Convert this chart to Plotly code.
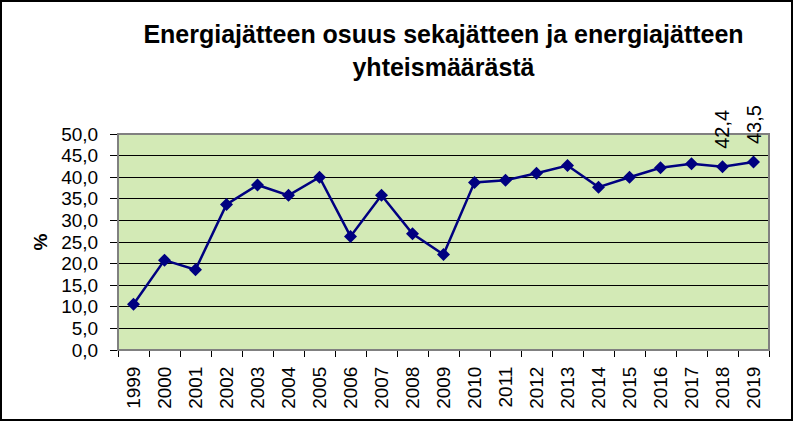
import plotly.graph_objects as go

years = [str(y) for y in range(1999, 2020)]
values = [10.6, 20.8, 18.6, 33.7, 38.2, 35.8, 40.0, 26.3, 35.8, 26.9, 22.1,
          38.8, 39.3, 40.9, 42.7, 37.7, 40.0, 42.2, 43.1, 42.4, 43.5]
label_years = ["2018", "2019"]
label_texts = ["42,4", "43,5"]
y_ticks = [0, 5, 10, 15, 20, 25, 30, 35, 40, 45, 50]
y_ticktext = [f"{v:.1f}".replace(".", ",") for v in y_ticks]

W, H = 793, 421
ml, mr, mt, mb = 118, 24, 134, 71
pw, ph = W - ml - mr, H - mt - mb
FONT = "Liberation Sans, Arial"

fig = go.Figure()
fig.add_trace(go.Scatter(
    x=list(range(len(years))), y=values, mode="lines+markers",
    line=dict(color="#000080", width=2.5),
    marker=dict(symbol="diamond", size=10, color="#000080"),
    showlegend=False, cliponaxis=False,
))

for yr, txt in zip(label_years, label_texts):
    i = years.index(yr)
    fig.add_annotation(
        x=i, y=values[i], xref="x", yref="y", text=txt, showarrow=False,
        textangle=-90, yanchor="bottom", xanchor="center", yshift=16,
        font=dict(family=FONT, size=20, color="black"),
    )

fig.update_layout(
    width=W, height=H,
    margin=dict(l=ml, r=mr, t=mt, b=mb),
    paper_bgcolor="white", plot_bgcolor="#d3eab6",
    font=dict(family=FONT, color="black"),
    title=dict(
        text="<b>Energiajätteen osuus sekajätteen ja energiajätteen<br>yhteismäärästä</b>",
        x=(ml + pw / 2) / W, xanchor="center", y=1 - 43 / H, yanchor="top",
        font=dict(size=25, color="black"),
    ),
    xaxis=dict(
        type="linear", range=[-0.5, 20.5],
        tickvals=list(range(len(years))), ticktext=years,
        ticks="", tickangle=-90, ticklabelstandoff=8,
        tickfont=dict(size=19), showgrid=False, showline=True,
        linecolor="black", linewidth=1, zeroline=False,
        minor=dict(tickvals=[i - 0.5 for i in range(len(years) + 1)],
                   ticks="outside", ticklen=6, tickcolor="black", showgrid=False),
    ),
    yaxis=dict(
        range=[0, 50], tickvals=y_ticks, ticktext=y_ticktext,
        ticks="outside", ticklen=7, tickcolor="black", tickfont=dict(size=19),
        ticklabelstandoff=8,
        showgrid=True, gridcolor="black", gridwidth=1,
        showline=True, linecolor="black", zeroline=False,
        title=dict(text="<b>%</b>", font=dict(size=19), standoff=8),
    ),
    shapes=[
        dict(type="rect", xref="paper", yref="paper", x0=0, x1=1, y0=0, y1=1,
             line=dict(color="#808080", width=2), fillcolor="rgba(0,0,0,0)", layer="above"),
        dict(type="rect", xref="paper", yref="paper",
             x0=-(ml - 1) / pw, x1=(pw + mr - 1) / pw,
             y0=-(mb - 1) / ph, y1=(ph + mt - 1) / ph,
             line=dict(color="black", width=2), fillcolor="rgba(0,0,0,0)"),
    ],
)

fig.write_html("out.html")
